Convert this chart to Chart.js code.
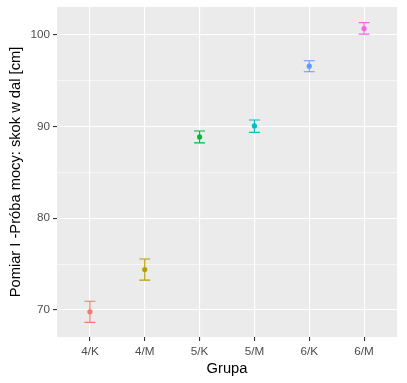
<!DOCTYPE html>
<html>
<head>
<meta charset="utf-8">
<script src="https://cdn.jsdelivr.net/npm/chart.js@4/dist/chart.umd.min.js"></script>
<style>
html,body{margin:0;padding:0;background:#fff;}
#wrap{width:407px;height:383px;}
</style>
</head>
<body>
<div id="wrap"><canvas id="c" width="407" height="383"></canvas></div>
<script>
const categories = ['4/K','4/M','5/K','5/M','6/K','6/M'];
const means = [69.8, 74.4, 88.85, 90.05, 96.55, 100.65];
const lower = [68.65, 73.25, 88.2, 89.35, 95.95, 100.05];
const upper = [70.95, 75.55, 89.5, 90.7, 97.15, 101.3];
const colors = ['#F8766D','#B79F00','#00BA38','#00BFC4','#619CFF','#F564E3'];
const yTicks = [70, 75, 80, 85, 90, 95, 100];
const yMajor = [70, 80, 90, 100];
const xLabel = 'Grupa';
const yLabel = 'Pomiar I -Próba mocy: skok w dal [cm]';
const capHalf = 0.1;

const datasets = categories.map((c, i) => ({
  label: c,
  data: [{x: i + 1, y: means[i]}],
  backgroundColor: colors[i],
  borderColor: colors[i],
  borderWidth: 0,
  pointRadius: 2.6,
  pointHoverRadius: 2.6
}));

const panelBg = {
  id: 'panelBg',
  beforeDraw(chart) {
    const {ctx, chartArea: a} = chart;
    ctx.save();
    ctx.fillStyle = '#EBEBEB';
    ctx.fillRect(a.left, a.top, a.right - a.left, a.bottom - a.top);
    ctx.restore();
  }
};

const errorBars = {
  id: 'errorBars',
  beforeDatasetsDraw(chart) {
    const {ctx, scales: {x, y}} = chart;
    ctx.save();
    ctx.lineWidth = 1.1;
    categories.forEach((c, i) => {
      const xc = x.getPixelForValue(i + 1);
      const xl = x.getPixelForValue(i + 1 - capHalf);
      const xr = x.getPixelForValue(i + 1 + capHalf);
      const yl = y.getPixelForValue(lower[i]);
      const yu = y.getPixelForValue(upper[i]);
      ctx.strokeStyle = colors[i];
      ctx.beginPath();
      ctx.moveTo(xc, yl); ctx.lineTo(xc, yu);
      ctx.moveTo(xl, yl); ctx.lineTo(xr, yl);
      ctx.moveTo(xl, yu); ctx.lineTo(xr, yu);
      ctx.stroke();
    });
    ctx.restore();
  }
};

new Chart(document.getElementById('c'), {
  type: 'scatter',
  data: {datasets},
  plugins: [panelBg, errorBars],
  options: {
    responsive: false,
    animation: false,
    events: [],
    layout: {padding: {left: 0, top: 7, right: 10, bottom: 0}},
    plugins: {legend: {display: false}, tooltip: {enabled: false}},
    scales: {
      x: {
        type: 'linear',
        min: 0.4,
        max: 6.6,
        afterBuildTicks: s => { s.ticks = categories.map((c, i) => ({value: i + 1})); },
        afterFit: s => { s.height = 46; s.paddingLeft = 0; s.paddingRight = 0; },
        ticks: {
          callback: v => categories[Math.round(v) - 1],
          color: '#4D4D4D',
          font: {family: 'Liberation Sans', size: 11.7},
          padding: 4,
          maxRotation: 0,
          autoSkip: false
        },
        grid: {color: '#FFFFFF', lineWidth: 1.1, tickColor: '#333333', tickLength: 4, tickWidth: 1.1},
        border: {display: false},
        title: {display: true, text: xLabel, color: '#000', font: {family: 'Liberation Sans', size: 14.7}, padding: {top: 0, bottom: 5}}
      },
      y: {
        type: 'linear',
        min: 67.06,
        max: 103.0,
        afterBuildTicks: s => { s.ticks = yTicks.map(v => ({value: v})); },
        afterFit: s => { s.width = 57; s.paddingTop = 0; s.paddingBottom = 0; },
        ticks: {
          callback: v => yMajor.includes(v) ? String(v) : '',
          color: '#4D4D4D',
          font: {family: 'Liberation Sans', size: 11.7},
          padding: 3,
          autoSkip: false
        },
        grid: {
          color: '#FFFFFF',
          lineWidth: ctx => yMajor.includes(ctx.tick && ctx.tick.value) ? 1.1 : 0.55,
          tickColor: ctx => yMajor.includes(ctx.tick && ctx.tick.value) ? '#333333' : 'rgba(0,0,0,0)',
          tickLength: 4,
          tickWidth: 1.1
        },
        border: {display: false},
        title: {display: true, text: yLabel, color: '#000', font: {family: 'Liberation Sans', size: 14.7}, padding: {top: 7, bottom: 0}}
      }
    }
  }
});
</script>
</body>
</html>
